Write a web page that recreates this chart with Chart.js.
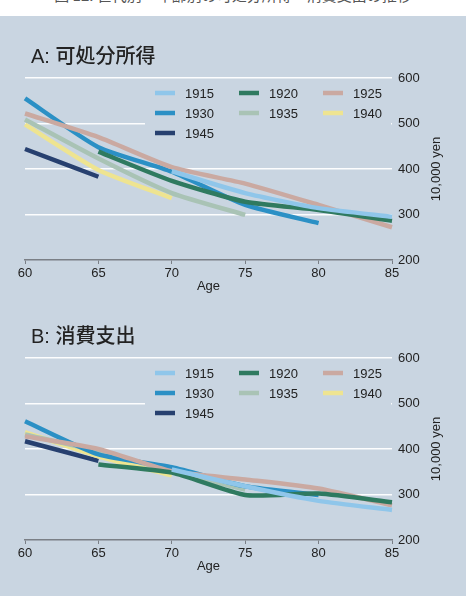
<!DOCTYPE html>
<html>
<head>
<meta charset="utf-8">
<script src="https://cdn.jsdelivr.net/npm/chart.js@4.4.1/dist/chart.umd.min.js"></script>
<style>
    body { margin: 0; width: 466px; height: 604px; background: #fff; overflow: hidden; position: relative; }
    #caption { position: absolute; left: 0; top: -16px; width: 466px; text-align: center; font: 15px 'Noto Sans CJK JP', sans-serif; color: #555; }
    #panel { position: absolute; left: 0; top: 16px; width: 466px; height: 580px; background: #c9d5e1; }
    .box { position: absolute; left: 0; width: 466px; height: 280px; }
    #boxA { top: 20px; }
    #boxB { top: 300px; }
</style>
</head>
<body>
<div id="caption">図 12. 世代別・年齢別の可処分所得・消費支出の推移</div>
<div id="panel"></div>
<div class="box" id="boxA"><canvas id="chartA" width="466" height="280"></canvas></div>
<div class="box" id="boxB"><canvas id="chartB" width="466" height="280"></canvas></div>
<script>
const ages = [60, 65, 70, 75, 80, 85];
const cohorts = ['1915', '1920', '1925', '1930', '1935', '1940', '1945'];
const yTicks = [200, 300, 400, 500, 600];

// A: disposable income (10,000 yen)
const income1915 = [null, null, 395, 347, 314, 295];
const income1920 = [null, 438, 374, 328, 310, 286];
const income1925 = [522, 470, 404, 368, 321, 272];
const income1930 = [555, 448, 394, 321, 281, null];
const income1935 = [509, 423, 347, 299, null, null];
const income1940 = [498, 398, 336, null, null, null];
const income1945 = [444, 383, null, null, null, null];

// B: consumption (10,000 yen)
const spend1915 = [null, null, 355, 318, 286, 266];
const spend1920 = [null, 366, 348, 299, 302, 283];
const spend1925 = [428, 400, 351, 333, 313, 276];
const spend1930 = [461, 388, 360, 318, 299, null];
const spend1935 = [432, 395, 351, 311, null, null];
const spend1940 = [437, 384, 342, null, null, null];
const spend1945 = [417, 374, null, null, null, null];

const cohortColors = ['#8fc6ea', '#2f7a60', '#caa9a1', '#2b90c5', '#a9c3b5', '#eee491', '#27406f'];
const bgColor = '#c9d5e1';
const textColor = '#222';
const baseFont = "'Liberation Sans', Arial, sans-serif";

document.addEventListener("DOMContentLoaded", pageLoad);

function pageLoad(){
    createPanel("chartA", "A: 可処分所得",
        [income1915, income1920, income1925, income1930, income1935, income1940, income1945]);
    createPanel("chartB", "B: 消費支出",
        [spend1915, spend1920, spend1925, spend1930, spend1935, spend1940, spend1945]);
}

// title, grid legend and rotated unit label
const panelDecor = {
    id: 'panelDecor',
    afterDraw(chart, args, opts){
        const ctx = chart.ctx;
        const area = chart.chartArea;
        ctx.save();

        ctx.fillStyle = textColor;
        ctx.font = "500 20px 'Liberation Sans', 'Noto Sans CJK JP', sans-serif";
        ctx.textBaseline = 'middle';
        ctx.textAlign = 'left';
        ctx.fillText(opts.title, 31, area.top - 21);

        // legend box hides the grid behind it
        ctx.fillStyle = bgColor;
        ctx.fillRect(145, area.top + 4, 246, 60);

        ctx.font = "13px " + baseFont;
        chart.data.datasets.forEach(function(ds, i){
            const col = i % 3;
            const row = Math.floor(i / 3);
            const x = 155 + col * 84;
            const y = area.top + 15 + row * 20;
            ctx.strokeStyle = ds.borderColor;
            ctx.lineWidth = 4.5;
            ctx.beginPath();
            ctx.moveTo(x, y);
            ctx.lineTo(x + 20, y);
            ctx.stroke();
            ctx.fillStyle = textColor;
            ctx.fillText(ds.label, x + 30, y + 1);
        });

        ctx.translate(436, (area.top + area.bottom) / 2);
        ctx.rotate(-Math.PI / 2);
        ctx.textAlign = 'center';
        ctx.fillText('10,000 yen', 0, 0);
        ctx.restore();
    }
};

function createPanel(canvasId, title, series){
    const datasets = cohorts.map(function(c, i){
        return {
            label: c,
            data: series[i],
            borderColor: cohortColors[i],
            backgroundColor: cohortColors[i],
            borderWidth: 4.5,
            pointRadius: 0,
            tension: 0.2,
            borderCapStyle: 'butt'
        };
    });

    const config = {
        type: 'line',
        data: {
            labels: ages,
            datasets: datasets
        },
        plugins: [panelDecor],
        options: {
            responsive: false,
            animation: false,
            events: [],
            layout: {
                padding: { top: 58, left: 25, right: 0, bottom: 0 }
            },
            plugins: {
                legend: { display: false },
                tooltip: { enabled: false },
                panelDecor: { title: title }
            },
            scales: {
                x: {
                    ticks: {
                        color: textColor,
                        font: { family: baseFont, size: 13 },
                        padding: 2,
                        maxRotation: 0
                    },
                    grid: {
                        drawOnChartArea: false,
                        drawTicks: true,
                        tickLength: 4,
                        color: '#7a7f86'
                    },
                    border: { color: '#7a7f86', width: 1.5 },
                    title: {
                        display: true,
                        text: 'Age',
                        color: textColor,
                        font: { family: baseFont, size: 13 },
                        padding: { top: 0, bottom: 6 }
                    },
                    afterFit: function(scale){ scale.height = 40; }
                },
                y: {
                    position: 'right',
                    min: yTicks[0],
                    max: yTicks[yTicks.length - 1],
                    afterBuildTicks: function(scale){
                        scale.ticks = yTicks.map(function(v){ return { value: v }; });
                    },
                    ticks: {
                        color: textColor,
                        font: { family: baseFont, size: 13 },
                        padding: 6
                    },
                    grid: {
                        drawTicks: false,
                        color: function(c){ return c.tick && c.tick.value === yTicks[0] ? 'rgba(0,0,0,0)' : 'rgba(255,255,255,0.95)'; },
                        lineWidth: 1.5
                    },
                    border: { display: false },
                    afterFit: function(scale){ scale.width = 74; }
                }
            }
        }
    };

    return new Chart(document.getElementById(canvasId), config);
}
</script>
</body>
</html>
